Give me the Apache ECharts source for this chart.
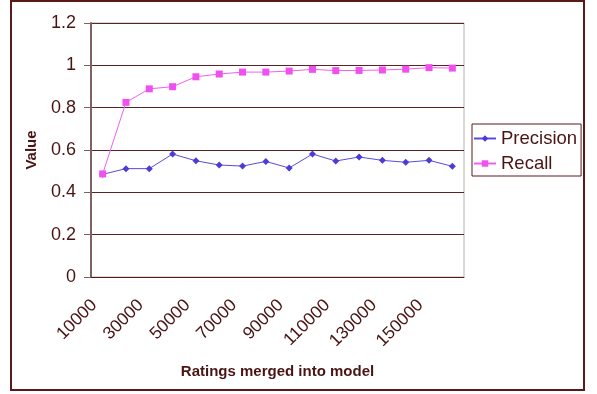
<!DOCTYPE html>
<html>
<head>
<meta charset="utf-8">
<script src="https://cdn.jsdelivr.net/npm/echarts@6/dist/echarts.min.js"></script>
<style>
html,body{margin:0;padding:0;background:#fff;}
#c{width:597px;height:394px;}
</style>
</head>
<body>
<div id="c"></div>
<script>
const categories = ['10000','20000','30000','40000','50000','60000','70000','80000','90000','100000','110000','120000','130000','140000','150000','160000'];
const precision = [0.485,0.512,0.512,0.581,0.549,0.529,0.524,0.546,0.515,0.581,0.548,0.567,0.551,0.542,0.551,0.523];
const recall = [0.487,0.825,0.889,0.899,0.946,0.959,0.968,0.968,0.973,0.981,0.975,0.976,0.978,0.982,0.989,0.987];
const yTicks = [0,0.2,0.4,0.6,0.8,1,1.2];

const textColor = '#4a1414';
const font = 'Liberation Sans, Arial, sans-serif';
const chart = echarts.init(document.getElementById('c'), null, {renderer:'canvas'});
chart.setOption({
  animation:false,
  backgroundColor:'#ffffff',
  graphic:[{
    type:'rect', shape:{x:11,y:1,width:573,height:389},
    style:{fill:'none',stroke:'#5a1a1a',lineWidth:2}, silent:true, z:-1
  }],
  grid:{left:91,top:23,right:133,bottom:117,show:true,borderColor:'#b8b0a8',borderWidth:1,backgroundColor:'#ffffff'},
  legend:{
    orient:'vertical', left:472, top:124,
    padding:[5,4,3,1], itemGap:6, itemWidth:22, itemHeight:8,
    borderColor:'#5a1a1a', borderWidth:1,
    textStyle:{color:textColor,fontFamily:font,fontSize:18.5},
    data:['Precision','Recall']
  },
  xAxis:{
    type:'category', data:categories, boundaryGap:true,
    name:'Ratings merged into model', nameLocation:'middle', nameGap:87,
    nameTextStyle:{color:textColor,fontWeight:'bold',fontSize:15,fontFamily:font},
    axisLine:{lineStyle:{color:'#5a1a1a',width:1}},
    axisTick:{interval:0,length:6,lineStyle:{color:'#5a1a1a'}},
    axisLabel:{interval:1,rotate:45,color:textColor,fontSize:17.5,fontFamily:font,margin:17,padding:[0,12,0,0]},
    splitLine:{show:false}
  },
  yAxis:{
    type:'value', min:yTicks[0], max:yTicks[yTicks.length-1], interval:0.2,
    name:'Value', nameLocation:'middle', nameGap:52,
    nameTextStyle:{color:textColor,fontWeight:'bold',fontSize:15,fontFamily:font},
    axisLine:{show:true,lineStyle:{color:'#806060',width:2}},
    axisTick:{show:true,length:7,lineStyle:{color:'#806060'}},
    axisLabel:{color:textColor,fontSize:18,fontFamily:font,margin:15,
      formatter:v=>String(Math.round(v*10)/10)},
    splitLine:{lineStyle:{color:'#5a2424',width:1}}
  },
  series:[
    {name:'Precision',type:'line',data:precision,symbol:'diamond',symbolSize:7,
     itemStyle:{color:'#4b3bd8'},lineStyle:{color:'#5a4ae0',width:1}},
    {name:'Recall',type:'line',data:recall,symbol:'rect',symbolSize:7,
     itemStyle:{color:'#f050f0'},lineStyle:{color:'#f060f0',width:1}}
  ]
});
</script>
</body>
</html>
